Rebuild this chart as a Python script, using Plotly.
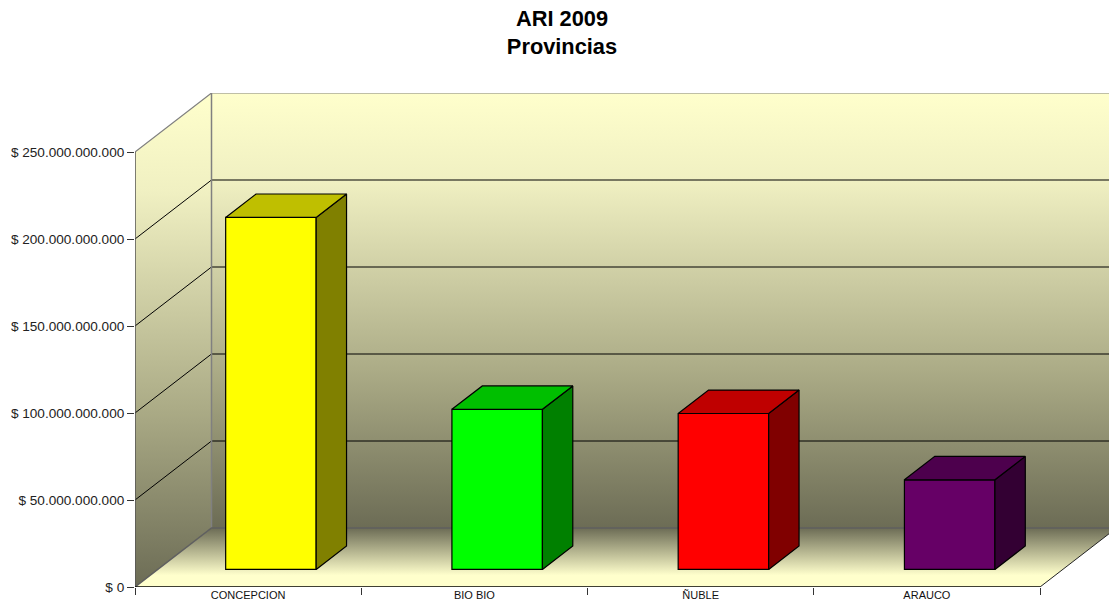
import plotly.graph_objects as go

categories = ["CONCEPCION", "BIO BIO", "ÑUBLE", "ARAUCO"]
values = [202.3e9, 92.0e9, 89.6e9, 51.5e9]
y_ticks = [0, 50e9, 100e9, 150e9, 200e9, 250e9]
y_labels = ["$ 0", "$ 50.000.000.000", "$ 100.000.000.000", "$ 150.000.000.000",
            "$ 200.000.000.000", "$ 250.000.000.000"]
front_colors = ["#FFFF00", "#00FF00", "#FF0000", "#660066"]
top_colors = ["#BFBF00", "#00BF00", "#BF0000", "#4D004D"]
side_colors = ["#808000", "#008000", "#800000", "#330033"]

W, H = 1109, 613
ML, MT, MB = 135, 93.3, 25.7
CAT_PX = 226.25
PX_PER_TICK = 87.0
XMAX = (W - ML) / CAT_PX
YMAX = (H - MB - MT) / PX_PER_TICK * 50e9
DX = 76.5 / CAT_PX
DY = 59.0 / PX_PER_TICK * 50e9
D0, D1 = 0.298, 0.695
BW = 0.40
N = len(categories)
YTOP = y_ticks[-1]

PALE, DARK = "#FFFFCC", "#6C6C55"
GRID, EDGE = "#000000", "#808080"


def proj(x, y, d):
    return x + d * DX, y + d * DY


def poly(points, **kw):
    xs = [p[0] for p in points] + [points[0][0]]
    ys = [p[1] for p in points] + [points[0][1]]
    return go.Scatter(x=xs, y=ys, mode="lines", fill="toself", hoverinfo="skip", showlegend=False, **kw)


def line(points, color, width=1, **kw):
    return go.Scatter(x=[p[0] for p in points], y=[p[1] for p in points], mode="lines",
                      line=dict(color=color, width=width), hoverinfo="skip", showlegend=False, **kw)


fig = go.Figure()
nol = dict(line=dict(width=0))
wall_scale = [[0, DARK], [0.36, "#ABAB86"], [0.8, "#F0F0C2"], [1, PALE]]
floor_scale = [[0, PALE], [0.2, PALE], [1, DARK]]

fig.add_trace(poly([proj(0, 0, 1), proj(N, 0, 1), proj(N, YTOP, 1), proj(0, YTOP, 1)],
                   fillgradient=dict(type="vertical", colorscale=wall_scale), **nol))
fig.add_trace(poly([proj(0, 0, 0), proj(0, 0, 1), proj(0, YTOP, 1), proj(0, YTOP, 0)],
                   fillgradient=dict(type="vertical", colorscale=wall_scale), **nol))
fig.add_trace(poly([proj(0, 0, 0), proj(N, 0, 0), proj(N, 0, 1), proj(0, 0, 1)],
                   fillgradient=dict(type="vertical", colorscale=floor_scale), **nol))

for t in y_ticks[1:-1]:
    fig.add_trace(line([proj(0, t, 0), proj(0, t, 1), proj(N, t, 1)], GRID))
top_edge = line([proj(0, YTOP, 0), proj(0, YTOP, 1), proj(N, YTOP, 1)], EDGE, 1.2)
top_edge.update(cliponaxis=False)
fig.add_trace(top_edge)
fig.add_trace(line([proj(0, 0, 1), proj(0, YTOP, 1)], EDGE, 1.5))
fig.add_trace(line([proj(0, 0, 0), proj(0, 0, 1), proj(N, 0, 1)], "#5f5f5f", 1.5))
fig.add_trace(line([proj(N, 0, 0), proj(N, 0, 1)], "#222222", 1))
fig.add_trace(line([proj(0, 0, 0), proj(0, YTOP, 0)], "#555555", 1.5))
fig.add_trace(line([proj(0, 0, 0), proj(N, 0, 0)], "#000000", 1.3))

base = D0 * DY
centres = [i + 0.5 + D0 * DX for i in range(N)]
for i, cat in enumerate(categories):
    fig.add_trace(go.Bar(x=[centres[i]], y=[values[i]], base=base, width=BW, name=cat,
                         marker=dict(color=front_colors[i], line=dict(color="#000000", width=1.2)),
                         xaxis="x2", yaxis="y2", showlegend=False,
                         hovertemplate=f"{cat}<extra></extra>"))
for i in range(N):
    xl = i + 0.5 - BW / 2
    xr = i + 0.5 + BW / 2
    v = values[i]
    side = [proj(xr, 0, D0), proj(xr, 0, D1), proj(xr, v, D1), proj(xr, v, D0)]
    top = [proj(xl, v, D0), proj(xr, v, D0), proj(xr, v, D1), proj(xl, v, D1)]
    lw = dict(color="#000000", width=1.2)
    fig.add_trace(poly(side, fillcolor=side_colors[i], line=lw, xaxis="x2", yaxis="y2"))
    fig.add_trace(poly(top, fillcolor=top_colors[i], line=lw, xaxis="x2", yaxis="y2"))

fig.update_layout(
    width=W, height=H, autosize=False,
    margin=dict(l=ML, r=0, t=MT, b=MB, pad=0),
    paper_bgcolor="white", plot_bgcolor="white",
    font=dict(family="Liberation Sans, Arial, sans-serif", color="#111111"),
    showlegend=False, barmode="overlay",
    title=dict(text="<b>ARI 2009<br>Provincias</b>", x=562 / W, xanchor="center",
               y=1 - 26 / H, yanchor="top", font=dict(size=21.8, color="#000000")),
    xaxis=dict(range=[0, XMAX], tickvals=[i + 0.5 for i in range(N)], ticktext=categories,
               ticks="", showgrid=False, zeroline=False, showline=False,
               tickfont=dict(size=11, color="#111111"), ticklabeloverflow="allow",
               minor=dict(tickvals=list(range(N + 1)), ticks="outside", ticklen=7, tickcolor="#333333",
                          showgrid=False)),
    yaxis=dict(range=[0, YMAX], tickvals=y_ticks, ticktext=y_labels, ticks="outside", ticklen=7,
               tickcolor="#333333", showgrid=False, zeroline=False, showline=False,
               tickfont=dict(size=13.6, color="#222222")),
    xaxis2=dict(range=[0, XMAX], overlaying="x", visible=False),
    yaxis2=dict(range=[0, YMAX], overlaying="y", visible=False),
)

fig.write_html("out.html", config={"displayModeBar": False},
               post_script="document.body.style.margin='0';")
